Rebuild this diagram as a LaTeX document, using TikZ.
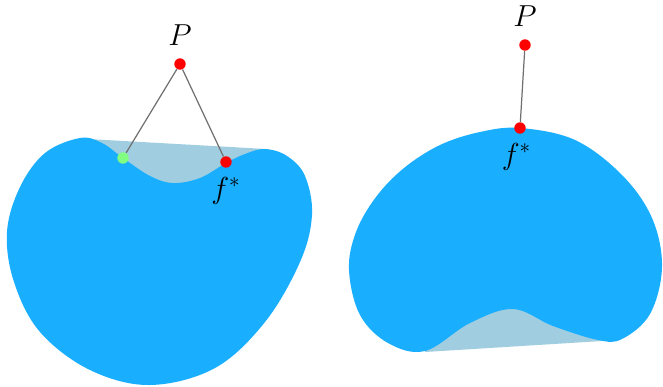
\documentclass[tikz,border=0pt]{standalone}
\usepackage{tikz}
\usetikzlibrary{positioning}
\definecolor{setblue}{RGB}{26,174,255}
\definecolor{hullblue}{RGB}{160,206,224}
\definecolor{segray}{RGB}{112,112,112}

\begin{document}
\begin{tikzpicture}[x=0.02cm, y=-0.02cm,
  pt/.style={circle, inner sep=0pt, minimum size=6.5pt},
  lbl/.style={font=\LARGE, inner sep=1pt},
  seg/.style={segray, line width=0.7pt}]
  \useasboundingbox (0,0) rectangle (663,386);
  % left set: non-convex, hull fills the dent
  \fill[hullblue] (88,139) -- (266,149) -- (266,190) -- (88,190) -- cycle;
  \fill[setblue] plot[smooth cycle, tension=0.6] coordinates {
    (80,138) (45,153) (20,187) (7,232) (14,282) (40,332) (90,370)
    (150,385) (215,368) (265,322) (300,262) (312,215) (305,176)
    (287,156) (265,149) (245,154) (226,163) (200,178) (173,183)
    (150,176) (123,158) (102,143)};
  % right set: dent is on the far side
  \fill[hullblue] (425,352) -- (602,341) -- (602,300) -- (425,300) -- cycle;
  \fill[setblue] plot[smooth cycle, tension=0.6] coordinates {
    (520,128) (575,140) (622,175) (652,218) (662,267) (650,314)
    (622,339) (598,340) (553,326) (513,309) (470,323) (425,351)
    (388,343) (360,315) (349,270) (356,232) (376,197) (404,168)
    (440,145) (480,132)};
  % points and projections
  \node[pt, fill=red] (pL) at (180,64) {};
  \node[pt, fill=green!50] (gL) at (123,158) {};
  \node[pt, fill=red] (fL) at (226,162) {};
  \node[pt, fill=red] (pR) at (525,45) {};
  \node[pt, fill=red] (fR) at (520,128) {};
  \draw[seg] (pL) -- (gL);
  \draw[seg] (pL) -- (fL);
  \draw[seg] (pR) -- (fR);
  \node[lbl, above=6pt of pL] (pLt) {$P$};
  \node[lbl, below=4pt of fL] (fLt) {$f^{*}$};
  \node[lbl, above=6pt of pR] (pRt) {$P$};
  \node[lbl, below=4pt of fR, xshift=-2pt] (fRt) {$f^{*}$};
\end{tikzpicture}
\end{document}
